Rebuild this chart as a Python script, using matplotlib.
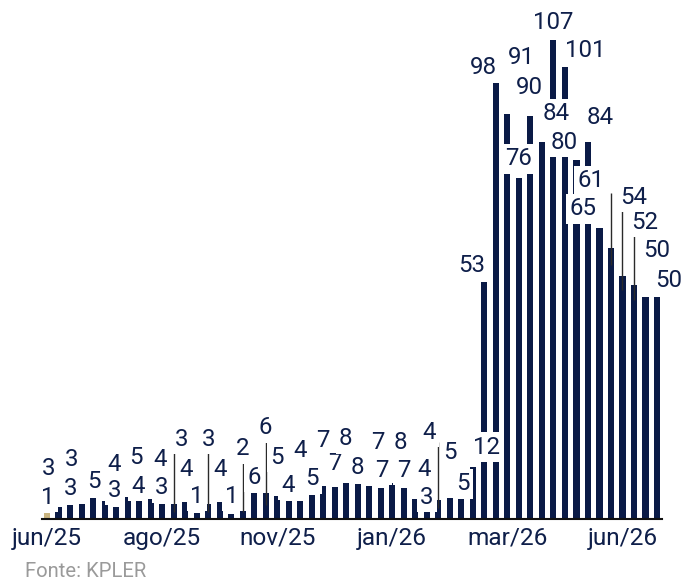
import matplotlib
matplotlib.use("Agg")
import matplotlib.pyplot as plt

# ---------------- data ----------------
values = [1.4, 2.6, 3.2, 3.35, 4.6, 4.1, 2.6, 4.9, 4.1, 4.4,
          3.4, 3.4, 3.8, 1.4, 3.4, 3.8, 1.1, 1.8, 5.75, 5.75,
          5.2, 4.1, 3.95, 5.4, 7.4, 7.2, 8.0, 7.75, 7.45, 6.9,
          8.1, 6.9, 4.4, 3.1, 4.3, 4.75, 4.6, 11.7, 53.1, 97.6,
          90.6, 76.2, 90.2, 84.3, 107.2, 101.2, 80.3, 84.3, 65.0, 60.6,
          54.4, 52.4, 49.6, 49.6]
tick_labels = ["jun/25", "ago/25", "nov/25", "jan/26", "mar/26", "jun/26"]
tick_step = 10
source = "Fonte: KPLER"

# ---------------- label layout (offset in bars, centre height in value units) ----------------
label_dx = [0.09, -0.83, 0.04, -0.85, 0.06, 0.79, -0.09, 0.69, -0.09, 0.82,
            -0.03, 0.70, 0.05, 0.03, 0.05, 0.03, 0.07, 0.0, 0.01, 0.0,
            0.01, -0.04, -0.02, 0.0, 0.0, 0.02, -0.05, -0.04, 0.78, 0.08,
            0.67, -0.04, 0.75, -0.01, -0.79, 0.01, 0.17, 1.20, -1.10, -1.09,
            1.24, -0.05, -0.10, 1.28, -0.01, 1.74, -1.08, 1.05, -1.41, -1.76,
            0.94, 0.95, 0.97, 0.98]
label_y = [5.37, 11.86, 7.27, 13.87, 8.95, 12.75, 6.82, 14.21, 7.72, 13.76,
           7.49, 18.23, 11.52, 5.48, 18.23, 11.52, 5.48, 16.17, 9.84, 20.87,
           14.32, 8.05, 15.88, 9.46, 18.05, 12.82, 18.41, 12.08, 17.67, 11.34,
           17.67, 11.34, 11.57, 5.37, 19.91, 15.44, 8.34, 16.55, 57.2, 101.57,
           103.8, 81.05, 97.09, 91.12, 111.63, 105.3, 84.79, 90.38, 69.87, 76.22,
           72.48, 66.89, 60.56, 53.85]
# leader lines: (bar index, y start, y end) in value units
leaders = [(11, 15.4, 1.6), (14, 15.0, 1.6), (17, 13.4, 1.6), (19, 18.1, 3.1),
           (34, 17.3, 2.5), (49, 72.9, 56.8), (50, 69.9, 51.2), (51, 63.5, 49.0)]

navy = "#0a1a46"
tan = "#c9b47f"
text_navy = "#0f1f4a"

plt.rcParams["font.family"] = ["Roboto", "DejaVu Sans"]

fig = plt.figure(figsize=(6.83, 5.81), dpi=100)
ax = fig.add_axes([0.0611, 0.1067, 0.9076, 0.8463])

x = list(range(len(values)))
colors = [tan] + [navy] * (len(values) - 1)
ax.bar(x, values, width=0.53, color=colors, zorder=2)

for i, y0, y1 in leaders:
    ax.plot([i, i], [y0, y1], color="#2a2a2a", lw=1.0, zorder=3,
            solid_capstyle="butt")

for i, v in enumerate(values):
    ax.annotate(f"{v:.0f}", xy=(i + label_dx[i], label_y[i]),
                xytext=(0, -6.2), textcoords="offset points",
                ha="center", va="baseline", fontsize=17.3, color=text_navy,
                annotation_clip=False, zorder=4,
                bbox=dict(boxstyle="square,pad=0.14", fc="white", ec="none"))

ax.set_xlim(-0.46, 53.4)
ax.set_ylim(0, 110)
ticks = list(range(0, len(values), tick_step))
ax.set_xticks(ticks)
ax.set_xticklabels(tick_labels, fontsize=17.6, color=text_navy)
ax.tick_params(axis="x", length=0, pad=5.5)
ax.set_yticks([])
for s in ["top", "right", "left"]:
    ax.spines[s].set_visible(False)
ax.spines["bottom"].set_color("#111111")
ax.spines["bottom"].set_linewidth(1.5)
ax.spines["bottom"].set_zorder(5)

fig.text(25 / 683, 1 - 576.7 / 581, source, fontsize=14.6, color="#9a9a9a",
         ha="left", va="baseline")

fig.savefig("out.png", dpi=100, facecolor="white")
